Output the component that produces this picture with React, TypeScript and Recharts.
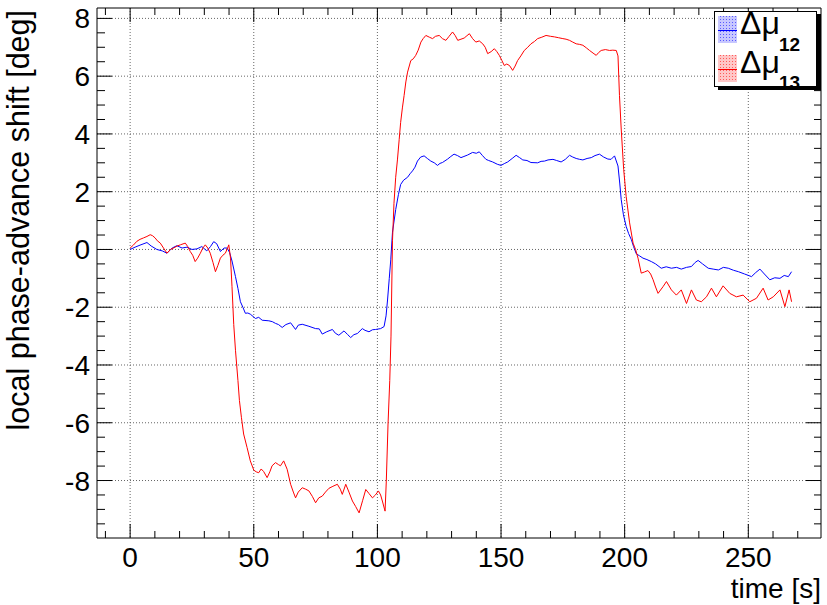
import React from "react";
import { LineChart, Line, XAxis, YAxis, CartesianGrid, Legend } from "recharts";

// time [s] and local phase-advance shift [deg]
const blueTime = [0,2,4,6.8,8.5,10.8,13,14.9,17,18.9,21,23,25,27,29,31,32.5,33.8,35,36.5,38,39.2,40.2,41.2,42.6,43.6,44.6,45.6,46.6,47.6,48.6,50.7,52,53.4,56.1,57.5,58.8,60,61.5,63,64.9,66.9,68,69.6,72.3,75,76.5,77.7,79.5,81.8,83,84.4,86.5,88,89.2,90.5,91.9,93.9,95,96.6,98,99.3,101.3,102.7,103.5,104.1,104.8,105.4,106.1,107.4,108.5,109.4,110.6,112.2,113.2,114.2,115.2,116.2,117.5,118.9,120.2,121.6,123,124.3,125.3,126.3,128.4,129.7,131,132.4,133.8,135,136.5,138.5,140,141.2,142.5,143.9,145,146.6,148.5,150,151.5,152.7,154.5,156.1,157.5,158.8,160.5,162.1,164.8,166.2,167.6,169,171,172.5,174.3,176,177.7,179,180.4,181.8,183.1,184.8,186.5,188,189.8,191.5,193.2,194.5,195.9,197.3,198,198.6,199.5,200.6,201.6,202.7,203.6,204.7,206,207.4,209,210.8,212.5,214.8,216.8,218.9,221,222.9,225,227,228.5,229.7,231.5,233.8,235.8,237.9,239.9,241.9,244,246,248.5,251.3,253,254.7,256.5,258.7,260.7,262.8,264.5,266.2,267.5];
const blueShift = [0,0.08,0.15,0.24,0.12,0,-0.05,-0.13,0.05,0.13,0.05,0.08,0,0.02,0.1,-0.05,0.1,0.27,0.2,-0.07,0.05,0.05,-0.1,-0.4,-0.94,-1.35,-1.81,-2,-2.21,-2.2,-2.24,-2.39,-2.35,-2.45,-2.47,-2.5,-2.56,-2.6,-2.7,-2.6,-2.54,-2.77,-2.62,-2.59,-2.66,-2.74,-2.75,-2.93,-2.85,-2.77,-2.9,-2.97,-2.82,-2.95,-3.05,-2.95,-2.91,-2.74,-2.8,-2.85,-2.78,-2.77,-2.74,-2.67,-2.3,-1.75,-1,-0.36,0.6,1.38,1.9,2.25,2.4,2.5,2.62,2.72,2.85,3.06,3.2,3.24,3.15,3.06,3,2.91,2.98,3.01,3.13,3.22,3.3,3.25,3.18,3.22,3.27,3.36,3.33,3.38,3.25,3.12,3.08,3.03,2.95,2.91,2.98,3.03,3.15,3.26,3.18,3.1,3.08,3.01,3,3.05,3.06,3.1,3.12,3.08,3.03,3.12,3.26,3.2,3.15,3.12,3.1,3.15,3.18,3.25,3.3,3.2,3.13,3.12,3.24,2.89,2.3,1.73,1.2,0.8,0.55,0.34,0.1,-0.15,-0.22,-0.3,-0.35,-0.42,-0.5,-0.65,-0.6,-0.65,-0.62,-0.68,-0.62,-0.59,-0.45,-0.38,-0.5,-0.65,-0.68,-0.71,-0.62,-0.65,-0.72,-0.77,-0.85,-0.94,-0.8,-0.68,-0.85,-1.05,-0.98,-1,-0.9,-0.94,-0.77];

const redTime = [0,1.3,2.7,4,5.4,6.8,8.1,9,10.1,11,12.2,13.5,14.9,16.3,17.6,19,20.3,22.3,23.3,24.3,25.3,26.3,27.3,28.4,29.4,30.4,31.4,32.4,33.5,34.5,35.5,36.5,37.5,38.5,39.4,39.9,40.6,41.2,41.9,42.6,43.6,44.2,45,45.9,47.3,48.6,50,51,52,53,54,55.4,56.5,57.4,58.8,60,60.8,62.1,63.5,64.9,66,66.9,68,69.6,71,72.3,73.7,75,76.3,77.7,79,80.4,82,83.8,85,85.8,87.2,88.5,89.9,91.2,92.6,94,95.3,96.6,98,99.2,100.4,101.3,102,103.1,103.6,104.3,105,105.5,106.1,106.7,107.4,108.1,108.8,109.4,110.1,110.8,111.5,112.2,113.5,114.5,115.5,116.5,117.6,118.5,119.6,121,122.3,123.5,125,126.3,127.7,129,130.4,131.5,132.5,133.8,135.1,136.2,137.2,138.5,139.8,141.2,142.6,143.6,144.6,146,147.3,148.3,149.3,150.3,151.3,152.3,153.4,154.7,155.7,156.7,158,159.4,160.8,162.1,163.5,164.8,166.5,168.2,170,171.6,173.3,175,176.3,177.7,179,180.4,181.8,183.1,184.5,185.8,187.2,188.5,189.5,190.5,192.2,193.9,195.2,196.6,197.3,197.9,198.6,199.6,200.6,202,203.4,204.4,205.4,206.7,208,209.4,210.5,211.5,212.5,213.5,215.5,216.9,218.9,220.9,222.9,225,227,229,231,233.1,235.1,237.1,239.8,242.5,245.2,247.9,250.6,253.3,256,258,260.1,262.8,264.8,266.5,267.5];
const redShift = [0.05,0.15,0.28,0.35,0.4,0.45,0.51,0.48,0.4,0.3,0.22,0.05,-0.13,0,0.05,0.12,0.16,0.22,0.1,-0.07,-0.2,-0.42,-0.3,-0.13,0.05,0.16,0.05,-0.13,-0.45,-0.77,-0.55,-0.3,-0.2,-0.13,0.05,0.16,-0.3,-1.29,-2.6,-3.49,-4.54,-5.23,-5.81,-6.39,-6.86,-7.32,-7.64,-7.7,-7.73,-7.6,-7.69,-7.9,-7.7,-7.49,-7.38,-7.45,-7.49,-7.32,-7.61,-8.13,-8.4,-8.6,-8.4,-8.25,-8.3,-8.36,-8.55,-8.77,-8.6,-8.54,-8.4,-8.27,-8.2,-8.13,-8.3,-8.48,-8.13,-8.4,-8.71,-8.9,-9.12,-8.7,-8.31,-8.45,-8.6,-8.5,-8.36,-8.5,-8.71,-9.06,-8.02,-6.04,-4.54,-3,0.3,1.6,2.5,3.1,3.8,4.4,4.9,5.33,5.8,6.14,6.54,6.6,6.72,6.9,7.18,7.3,7.41,7.35,7.3,7.38,7.41,7.3,7.24,7.38,7.53,7.4,7.24,7.28,7.32,7.4,7.47,7.3,7.18,7.22,7.12,7,6.78,6.85,6.95,6.85,6.72,6.55,6.37,6.42,6.37,6.2,6.35,6.54,6.7,6.89,7,7.12,7.2,7.3,7.35,7.41,7.38,7.36,7.33,7.3,7.28,7.24,7.18,7.12,7.1,7.07,6.98,6.89,6.8,6.72,6.82,6.89,6.92,6.89,6.9,6.89,6.7,5.33,4.17,2.77,1.84,0.92,0.22,0,-0.3,-0.82,-0.78,-0.73,-0.85,-1.05,-1.3,-1.52,-1.29,-1.11,-1.4,-1.58,-1.4,-1.87,-1.4,-1.75,-1.81,-1.64,-1.34,-1.64,-1.26,-1.52,-1.64,-1.58,-1.81,-1.69,-1.34,-1.75,-1.64,-1.4,-1.98,-1.4,-1.81];

const xTicks = [-10,0,10,20,30,40,50,60,70,80,90,100,110,120,130,140,150,160,170,180,190,200,210,220,230,240,250,260,270];
const xMajor = [0,50,100,150,200,250];
const yTicks = [-9.5,-9,-8.5,-8,-7.5,-7,-6.5,-6,-5.5,-5,-4.5,-4,-3.5,-3,-2.5,-2,-1.5,-1,-0.5,0,0.5,1,1.5,2,2.5,3,3.5,4,4.5,5,5.5,6,6.5,7,7.5,8];
const yMajor = [-8,-6,-4,-2,0,2,4,6,8];

const seriesNames = ["12", "13"];
const seriesColors = ["#0000ff", "#ff0000"];

const blueData = blueTime.map((t, i) => ({ t, v: blueShift[i] }));
const redData = redTime.map((t, i) => ({ t, v: redShift[i] }));

const FONT = "'Liberation Sans', Arial, Helvetica, sans-serif";
const AX = "#000";

const isMajorY = (v: number) => yMajor.indexOf(v) >= 0;
const isMajorX = (v: number) => xMajor.indexOf(v) >= 0;

const LeftTick = (p: any) => {
  const v = p.payload.value;
  const m = isMajorY(v);
  return (
    <g>
      <line x1={p.x} x2={p.x + (m ? 15 : 8)} y1={p.y} y2={p.y} stroke={AX} strokeWidth={1} />
      {m && (
        <text x={p.x - 7} y={p.y + 10} textAnchor="end" fontFamily={FONT} fontSize={28} fill="#000">
          {v}
        </text>
      )}
    </g>
  );
};
const RightTick = (p: any) => {
  const v = p.payload.value;
  const m = isMajorY(v);
  return <line x1={p.x} x2={p.x - (m ? 15 : 7)} y1={p.y} y2={p.y} stroke={AX} strokeWidth={1} />;
};
const BottomTick = (p: any) => {
  const v = p.payload.value;
  const m = isMajorX(v);
  return (
    <g>
      <line x1={p.x} x2={p.x} y1={p.y} y2={p.y - (m ? 14 : 7)} stroke={AX} strokeWidth={1} />
      {m && (
        <text x={p.x} y={p.y + 29} textAnchor="middle" fontFamily={FONT} fontSize={28} fill="#000">
          {v}
        </text>
      )}
    </g>
  );
};
const TopTick = (p: any) => {
  const v = p.payload.value;
  const m = isMajorX(v);
  return <line x1={p.x} x2={p.x} y1={p.y} y2={p.y + (m ? 14 : 7)} stroke={AX} strokeWidth={1} />;
};

const LegendBox = () => (
  <div
    style={{
      position: "relative",
      width: 103,
      height: 76,
      background: "#fff",
      border: "1px solid #000",
      boxSizing: "border-box",
      boxShadow: "4px 3px 0 #000",
    }}
  >
    <svg width={103} height={95} style={{ position: "absolute", left: -1, top: -11, overflow: "visible" }}>
      <defs>
        {seriesColors.map((c, i) => (
          <pattern key={c} id={`pat${i}`} width={3} height={3} patternUnits="userSpaceOnUse">
            <rect width={3} height={3} fill={c} fillOpacity={0.22} />
            <rect width={1} height={1} fill={c} fillOpacity={0.55} />
          </pattern>
        ))}
      </defs>
      {seriesNames.map((n, i) => {
        const top = 15 + i * 39;
        return (
          <g key={n}>
            <rect x={4} y={top} width={19} height={27} fill={`url(#pat${i})`} />
            <line x1={4} x2={23} y1={top + 14.5} y2={top + 14.5} stroke={seriesColors[i]} strokeWidth={1} />
            <text x={26} y={33 + i * 38.5} fontFamily={FONT} fontSize={32} fill="#000">
              Δμ
            </text>
            <text x={65} y={49.5 + i * 38.5} fontFamily={FONT} fontSize={19} fontWeight="bold" fill="#000">
              {n}
            </text>
          </g>
        );
      })}
    </svg>
  </div>
);

export default function App() {
  return (
    <div style={{ position: "absolute", left: 0, top: 0, width: 827, height: 605, background: "#fff" }}>
      <LineChart width={827} height={605} margin={{ top: 7, right: 5, bottom: 27, left: 37 }}>
        <CartesianGrid
          stroke="#666"
          strokeDasharray="1 2"
          horizontalValues={yMajor}
          verticalValues={xMajor}
        />
        <XAxis
          dataKey="t"
          type="number"
          domain={[-13.4, 279.4]}
          allowDataOverflow
          ticks={xTicks}
          interval={0}
          height={40}
          tickSize={0}
          tickMargin={0}
          tickLine={false}
          axisLine={{ stroke: AX }}
          tick={(p: any) => <BottomTick {...p} />}
        />
        <XAxis
          xAxisId="top"
          orientation="top"
          dataKey="t"
          type="number"
          domain={[-13.4, 279.4]}
          allowDataOverflow
          ticks={xTicks}
          interval={0}
          height={1}
          tickSize={0}
          tickMargin={0}
          tickLine={false}
          axisLine={{ stroke: AX }}
          tick={(p: any) => <TopTick {...p} />}
        />
        <YAxis
          type="number"
          domain={[-9.99, 8.36]}
          allowDataOverflow
          ticks={yTicks}
          interval={0}
          width={60}
          tickSize={0}
          tickMargin={0}
          tickLine={false}
          axisLine={{ stroke: AX }}
          tick={(p: any) => <LeftTick {...p} />}
        />
        <YAxis
          yAxisId="right"
          orientation="right"
          type="number"
          domain={[-9.99, 8.36]}
          allowDataOverflow
          ticks={yTicks}
          interval={0}
          width={1}
          tickSize={0}
          tickMargin={0}
          tickLine={false}
          axisLine={{ stroke: AX }}
          tick={(p: any) => <RightTick {...p} />}
        />
        <Line data={blueData} dataKey="v" name="Δμ12" type="linear" stroke={seriesColors[0]} strokeWidth={1} dot={false} isAnimationActive={false} />
        <Line data={redData} dataKey="v" name="Δμ13" type="linear" stroke={seriesColors[1]} strokeWidth={1} dot={false} isAnimationActive={false} />
        <Legend
          layout="horizontal"
          verticalAlign="middle"
          align="center"
          content={() => <LegendBox />}
          wrapperStyle={{ position: "absolute", left: 714, top: 11, width: 103, height: 76 }}
        />
        <text
          x={29}
          y={10}
          transform="rotate(-90 29 10)"
          textAnchor="end"
          fontFamily={FONT}
          fontSize={30.5}
          fill="#000"
        >
          local phase-advance shift [deg]
        </text>
        <text x={821} y={598} textAnchor="end" fontFamily={FONT} fontSize={28} fill="#000">
          time [s]
        </text>
      </LineChart>
    </div>
  );
}
